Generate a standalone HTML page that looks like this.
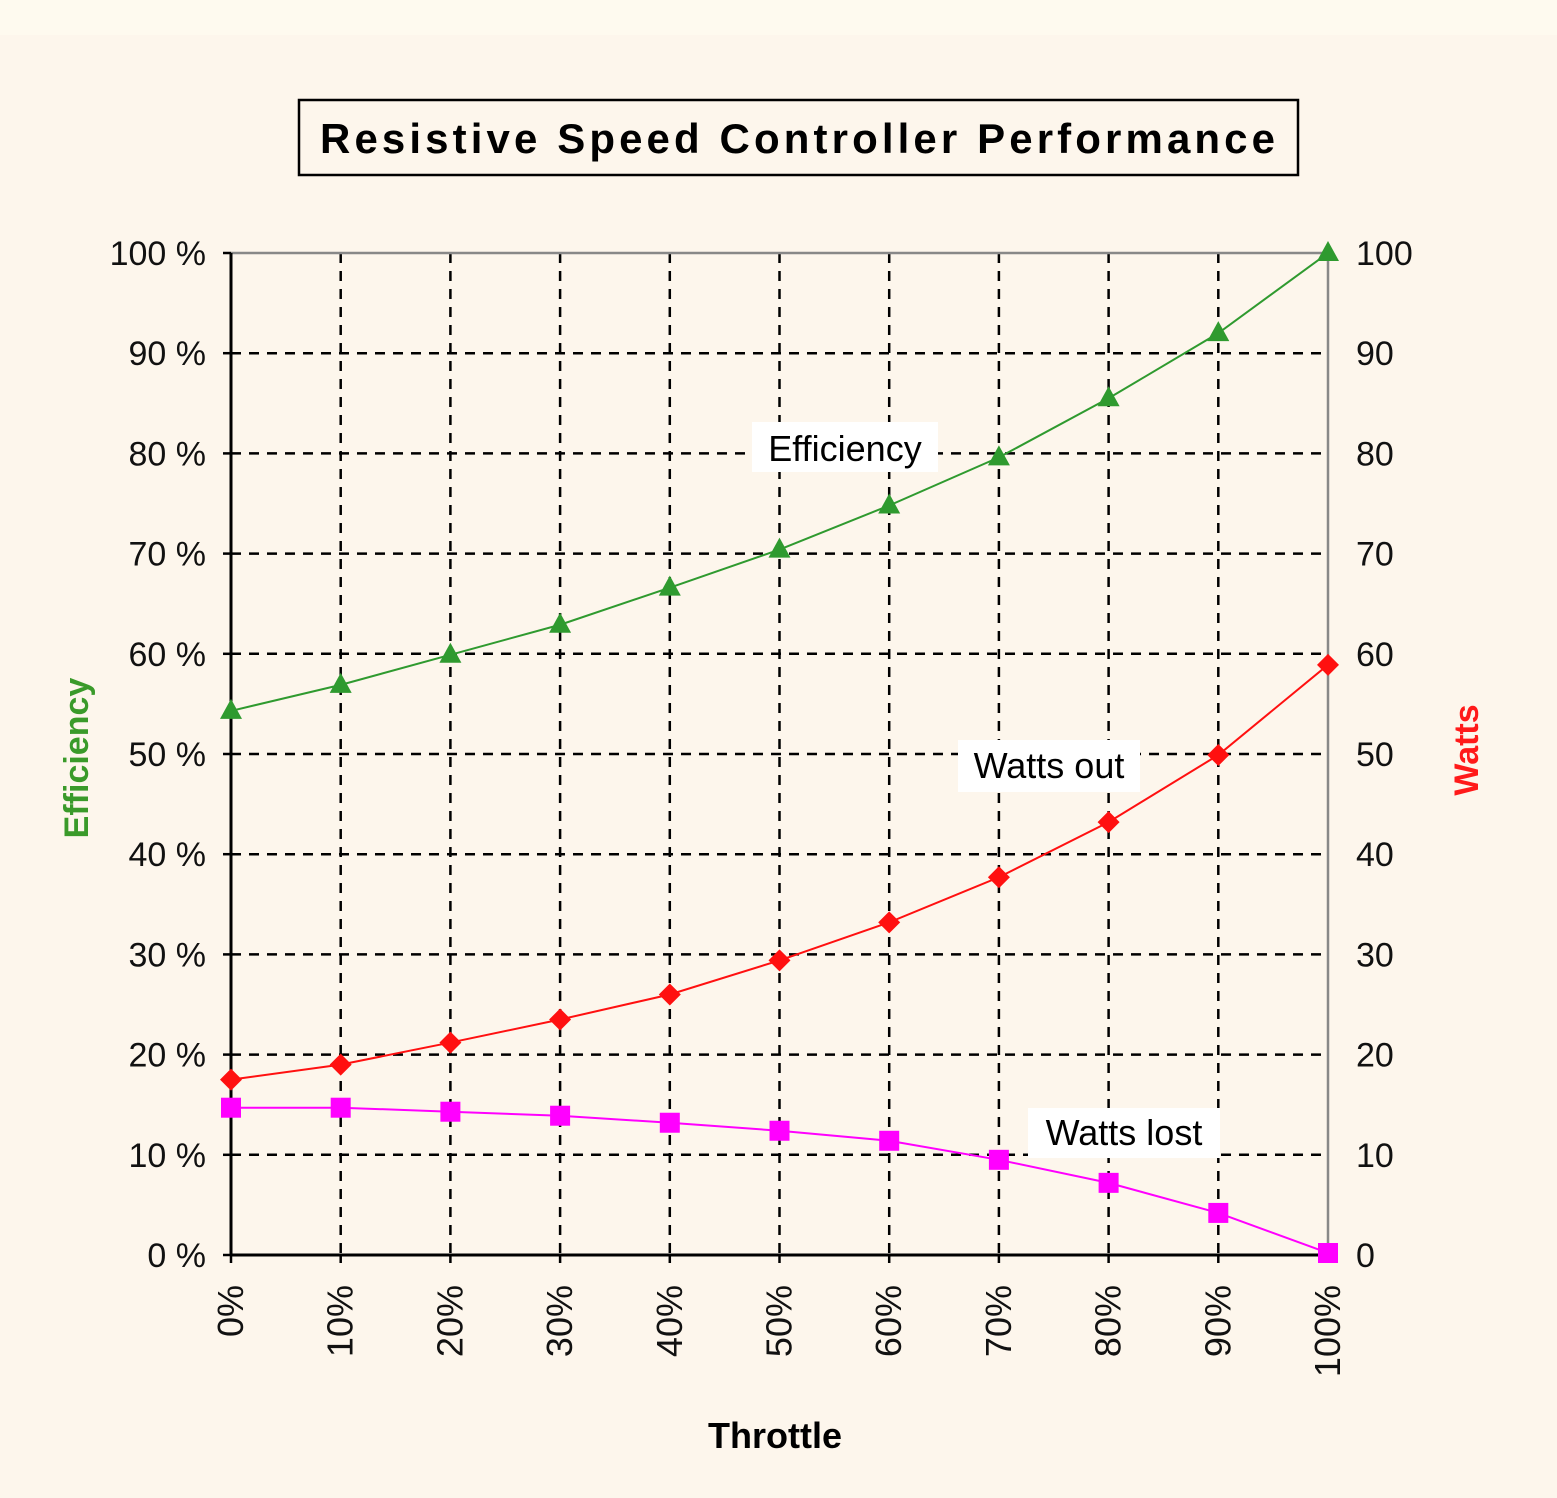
<!DOCTYPE html>
<html><head><meta charset="utf-8">
<style>
html,body{margin:0;padding:0;background:#fdf6ec;}
svg{display:block;font-family:"Liberation Sans",sans-serif;}
</style></head>
<body>
<svg id="chart" width="1557" height="1498" viewBox="0 0 1557 1498" xmlns="http://www.w3.org/2000/svg">
<rect x="0" y="0" width="1557" height="1498" fill="#fdf6ec"/>
<rect x="0" y="0" width="1557" height="35" fill="#fefaef"/>
<g>
<rect x="299" y="100" width="999" height="75" fill="none" stroke="#000" stroke-width="2.5"/>
<text x="320" y="153" textLength="955" lengthAdjust="spacing" font-size="42" font-weight="bold">Resistive Speed Controller Performance</text>
</g>
<g id="grid"></g>
<g id="axes"></g>
<g id="series"></g>
<text x="0" y="0" transform="translate(88,758) rotate(-90)" text-anchor="middle" font-size="34" font-weight="bold" fill="#3a9a2a">Efficiency</text>
<text x="0" y="0" transform="translate(1478,750) rotate(-90)" text-anchor="middle" font-size="34" font-weight="bold" fill="#ff1a1a">Watts</text>
<text x="775" y="1448" text-anchor="middle" font-size="36" font-weight="bold">Throttle</text>
<g><rect x="752" y="422" width="186" height="50" fill="#fff"/><text x="845" y="461" text-anchor="middle" font-size="36">Efficiency</text></g>
<g><rect x="958" y="740" width="182" height="52" fill="#fff"/><text x="1049" y="778" text-anchor="middle" font-size="36">Watts out</text></g>
<g><rect x="1028" y="1108" width="192" height="50" fill="#fff"/><text x="1124" y="1145" text-anchor="middle" font-size="36">Watts lost</text></g>
</svg>
<script>
const categories = ["0%","10%","20%","30%","40%","50%","60%","70%","80%","90%","100%"];
const efficiency = [54.3,56.9,59.9,62.9,66.6,70.4,74.8,79.6,85.5,92.0,100];
const wattsOut = [17.5,19.0,21.2,23.5,26.0,29.4,33.2,37.7,43.2,49.9,58.9];
const wattsLost = [14.7,14.7,14.3,13.9,13.2,12.4,11.4,9.5,7.2,4.2,0.2];
const leftTicks = ["0 %","10 %","20 %","30 %","40 %","50 %","60 %","70 %","80 %","90 %","100 %"];
const rightTicks = ["0","10","20","30","40","50","60","70","80","90","100"];

const X0=231,X1=1328,Y0=1255,Y1=253;
const NS="http://www.w3.org/2000/svg";
function xs(i){return X0+(X1-X0)*i/(categories.length-1);}
function ys(v){return Y0-(Y0-Y1)*v/100;}
function mk(tag,attrs,parent){const e=document.createElementNS(NS,tag);for(const k in attrs)e.setAttribute(k,attrs[k]);parent.appendChild(e);return e;}
const grid=document.getElementById('grid'),axes=document.getElementById('axes'),ser=document.getElementById('series');

leftTicks.forEach((t,i)=>{
  const v=i*10,y=ys(v);
  if(i>0&&i<10){const l=mk('line',{x1:X0,x2:X1,y1:y,y2:y,stroke:'#000','stroke-width':2.5,'stroke-dasharray':'10,8'},grid);
  
  }
  mk('line',{x1:X0-8,x2:X0,y1:y,y2:y,stroke:'#000','stroke-width':2.5},axes);
  const tx=mk('text',{x:X0-25,y:y+12,'text-anchor':'end','font-size':34,fill:'#111'},axes);tx.textContent=t;
  
  
  const tr=mk('text',{x:1356,y:y+12,'text-anchor':'start','font-size':34,fill:'#111'},axes);tr.textContent=rightTicks[i];
  
  
});
categories.forEach((c,i)=>{
  const x=xs(i);
  if(i>0&&i<10){const l=mk('line',{x1:x,x2:x,y1:Y1,y2:Y0,stroke:'#000','stroke-width':2.5,'stroke-dasharray':'10,8'},grid);
  
  }
  mk('line',{x1:x,x2:x,y1:Y0,y2:Y0+8,stroke:'#000','stroke-width':2.5},axes);
  const t=mk('text',{x:0,y:0,transform:`translate(${x+12},${Y0+30}) rotate(-90)`,'text-anchor':'end','font-size':36,fill:'#111'},axes);t.textContent=c;
  
  
});
mk('line',{x1:X0,x2:X1,y1:Y1,y2:Y1,stroke:'#888','stroke-width':2.5},axes);
mk('line',{x1:X1,x2:X1,y1:Y1,y2:Y0,stroke:'#888','stroke-width':2.5},axes);
mk('line',{x1:X0,x2:X0,y1:Y1,y2:Y0,stroke:'#000','stroke-width':3},axes);
mk('line',{x1:X0,x2:X1,y1:Y0,y2:Y0,stroke:'#000','stroke-width':3},axes);

function drawSeries(vals,color,shape,name){
  const g=mk('g',{},ser);
  
  
  mk('polyline',{points:vals.map((v,i)=>xs(i)+','+ys(v)).join(' '),fill:'none',stroke:color,'stroke-width':2},g);
  vals.forEach((v,i)=>{
    const x=xs(i),y=ys(v);let m;
    if(shape==='tri')m=mk('polygon',{points:`${x},${y-12} ${x-11},${y+8} ${x+11},${y+8}`,fill:color},g);
    else if(shape==='dia')m=mk('polygon',{points:`${x},${y-11} ${x+11},${y} ${x},${y+11} ${x-11},${y}`,fill:color},g);
    else m=mk('rect',{x:x-10,y:y-10,width:20,height:20,fill:color},g);
    
    
  });
}
drawSeries(efficiency,'#2f9a2f','tri','efficiency-series');
drawSeries(wattsOut,'#ff1010','dia','watts-out-series');
drawSeries(wattsLost,'#ff00ff','sq','watts-lost-series');
</script>
</body></html>
